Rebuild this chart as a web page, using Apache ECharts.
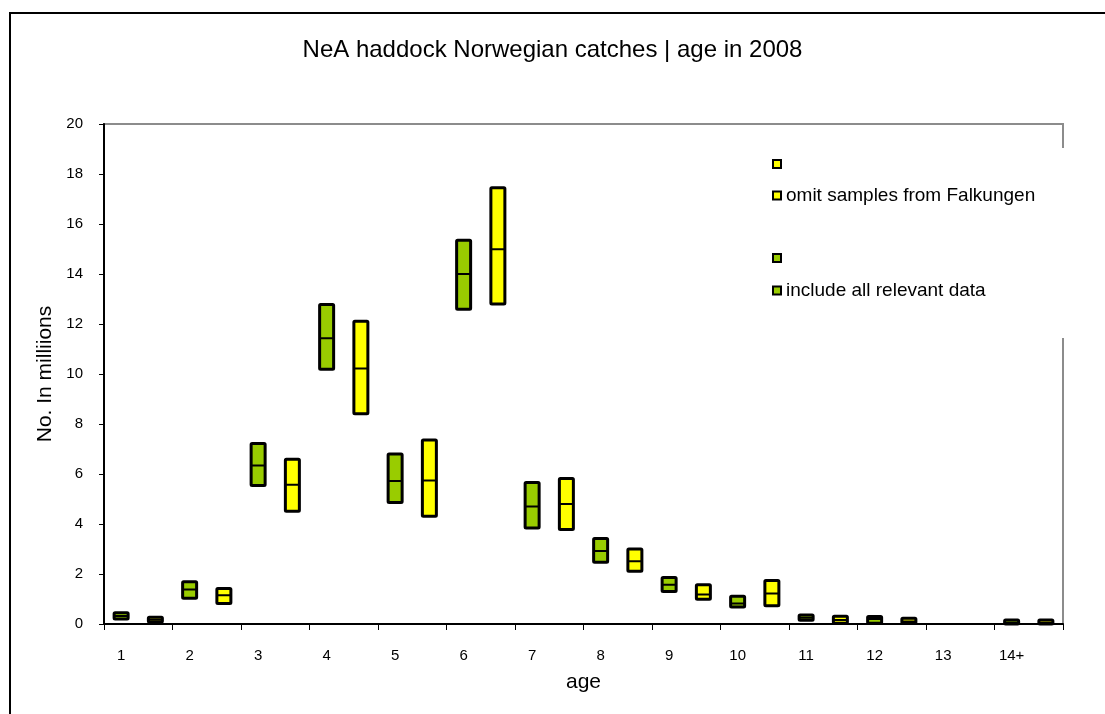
<!DOCTYPE html>
<html>
<head>
<meta charset="utf-8">
<script src="https://cdn.jsdelivr.net/npm/echarts@6/dist/echarts.min.js"></script>
<style>html,body{margin:0;padding:0;background:#fff;}#c{width:1105px;height:714px;}</style>
</head>
<body>
<div id="c"></div>
<script>
// ---- data ----
const ages = ['1','2','3','4','5','6','7','8','9','10','11','12','13','14+'];
// "include all relevant data" (green): low / mid / high
const inclLow  = [0.20, 1.03, 5.54, 10.19, 4.86, 12.59, 3.84, 2.47, 1.30, 0.68, 0.15, 0.03, null, 0.00];
const inclMid  = [0.32, 1.38, 6.34, 11.43, 5.72, 14.00, 4.70, 2.92, 1.57, 0.82, 0.25, 0.20, null, 0.05];
const inclHigh = [0.45, 1.69, 7.22, 12.78, 6.80, 15.35, 5.66, 3.42, 1.86, 1.11, 0.36, 0.30, null, 0.16];
// "omit samples from Falkungen" (yellow): low / mid / high
const omitLow  = [0.08, 0.82, 4.51, 8.41, 4.31, 12.80, 3.78, 2.11, 0.99, 0.73, 0.03, 0.03, null, 0.00];
const omitMid  = [0.17, 1.15, 5.57, 10.22, 5.74, 14.99, 4.80, 2.51, 1.18, 1.22, 0.16, 0.10, null, 0.05];
const omitHigh = [0.27, 1.42, 6.59, 12.11, 7.36, 17.45, 5.82, 3.00, 1.57, 1.74, 0.31, 0.23, null, 0.16];
const yTicks = [0, 2, 4, 6, 8, 10, 12, 14, 16, 18, 20];

const NAME_INCL = 'include all relevant data';
const NAME_OMIT = 'omit samples from Falkungen';
const GREEN = '#99CC00', YELLOW = '#FFFF00';

// two category slots per age: first = include, second = omit
const xCats = [];
ages.forEach(a => { xCats.push(a + '|a'); xCats.push(a + '|b'); });

function buildData(offset, lo, mid, hi) {
  const out = [];
  ages.forEach((a, i) => {
    if (lo[i] == null) return;
    out.push([i * 2 + offset, lo[i], mid[i], hi[i]]);
  });
  return out;
}

function renderBox(params, api) {
  const x = api.value(0);
  const lo = api.coord([x, api.value(1)]);
  const mi = api.coord([x, api.value(2)]);
  const hi = api.coord([x, api.value(3)]);
  const w = 14;
  const style = api.style();
  return {
    type: 'group',
    children: [
      { type: 'rect', shape: { x: lo[0] - w / 2, y: hi[1], width: w, height: lo[1] - hi[1], r: 1 },
        style: { fill: style.fill, stroke: '#000', lineWidth: 3 } },
      { type: 'line', shape: { x1: lo[0] - w / 2, y1: mi[1], x2: lo[0] + w / 2, y2: mi[1] },
        style: { stroke: '#000', lineWidth: 2 } }
    ]
  };
}

const chart = echarts.init(document.getElementById('c'));
const baseFont = "'Liberation Sans', Arial, sans-serif";
chart.setOption({
  backgroundColor: '#fff',
  animation: false,
  textStyle: { fontFamily: baseFont },
  title: {
    text: 'NeA haddock Norwegian catches | age in 2008',
    left: 'center', top: 33,
    textStyle: { fontFamily: baseFont, fontSize: 24, fontWeight: 'normal', color: '#000' }
  },
  grid: { left: 104, right: 42, top: 124, bottom: 90, show: true, borderColor: '#8c8c8c', borderWidth: 2, backgroundColor: 'transparent' },
  legend: {
    orient: 'vertical', left: 772, top: 186, padding: 0, itemGap: 76, itemWidth: 8, itemHeight: 8, z: 100,
    textStyle: { fontFamily: baseFont, fontSize: 19, color: '#000', lineHeight: 19 },
    data: [
      { name: NAME_OMIT, icon: 'rect', itemStyle: { color: YELLOW, borderColor: '#000', borderWidth: 2 } },
      { name: NAME_INCL, icon: 'rect', itemStyle: { color: GREEN, borderColor: '#000', borderWidth: 2 } }
    ]
  },
  graphic: [
    { type: 'rect', z: 0, silent: true, shape: { x: 10, y: 13, width: 1110, height: 720 }, style: { fill: 'none', stroke: '#000', lineWidth: 2 } },
    { type: 'rect', z: 50, silent: true, shape: { x: 760, y: 148, width: 310, height: 190 }, style: { fill: '#fff' } },
    { type: 'rect', z: 100, silent: true, shape: { x: 773, y: 160, width: 8, height: 8 }, style: { fill: YELLOW, stroke: '#000', lineWidth: 2 } },
    { type: 'rect', z: 100, silent: true, shape: { x: 773, y: 254, width: 8, height: 8 }, style: { fill: GREEN, stroke: '#000', lineWidth: 2 } }
  ],
  xAxis: {
    type: 'category', data: xCats, boundaryGap: true,
    name: 'age', nameLocation: 'middle', nameGap: 48,
    nameTextStyle: { fontFamily: baseFont, fontSize: 21, color: '#000' },
    axisLine: { lineStyle: { color: '#000', width: 2 } },
    axisTick: { show: true, interval: 1, length: 6, lineStyle: { color: '#000', width: 1 } },
    axisLabel: { interval: 1, margin: 24, color: '#000', fontSize: 15, fontFamily: baseFont, formatter: v => v.split('|')[0] },
    splitLine: { show: false }
  },
  yAxis: {
    type: 'value', min: 0, max: 20, interval: 2,
    name: 'No. In milliions', nameLocation: 'middle', nameGap: 48, nameRotate: 90,
    nameTextStyle: { fontFamily: baseFont, fontSize: 21, color: '#000' },
    axisLine: { show: true, lineStyle: { color: '#000', width: 2 } },
    axisTick: { show: true, length: 5, lineStyle: { color: '#000', width: 1 } },
    axisLabel: { color: '#000', fontSize: 15, fontFamily: baseFont, margin: 21, formatter: v => yTicks.includes(v) ? String(v) : '' },
    splitLine: { show: false }
  },
  series: [
    { name: NAME_INCL, type: 'custom', renderItem: renderBox, itemStyle: { color: GREEN },
      encode: { x: 0, y: [1, 2, 3] }, data: buildData(0, inclLow, inclMid, inclHigh) },
    { name: NAME_OMIT, type: 'custom', renderItem: renderBox, itemStyle: { color: YELLOW },
      encode: { x: 0, y: [1, 2, 3] }, data: buildData(1, omitLow, omitMid, omitHigh) }
  ]
});
</script>
</body>
</html>
